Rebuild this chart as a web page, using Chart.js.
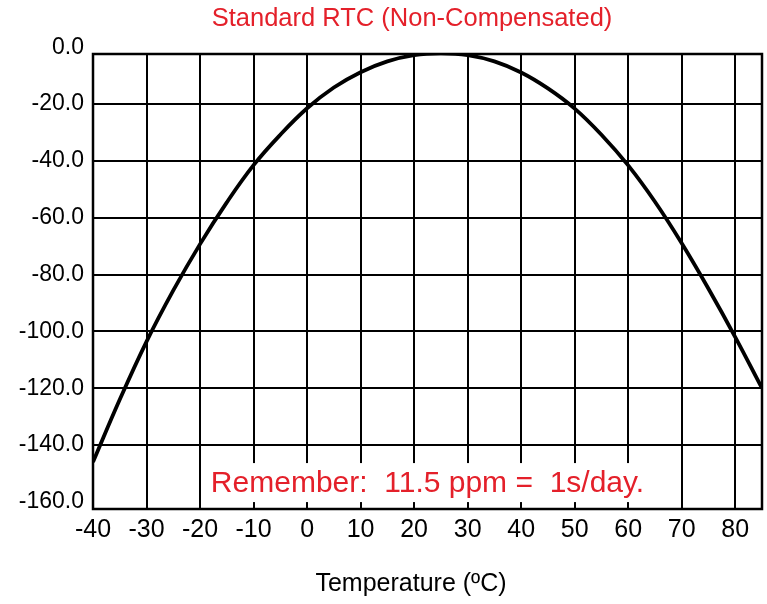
<!DOCTYPE html>
<html>
<head>
<meta charset="utf-8">
<script src="https://cdn.jsdelivr.net/npm/chart.js@4.4.1/dist/chart.umd.min.js"></script>
<style>
  html, body { margin: 0; padding: 0; background: #fff; }
  #wrap { width: 767px; height: 604px; }
</style>
</head>
<body>
<div id="wrap"><canvas id="graphCanvas" width="767" height="604"></canvas></div>
<script>
// temperature (C) vs frequency error (ppm)
var temps = [-40, -35, -30, -25, -20, -15, -10, -5, 0, 5, 10, 15, 20, 25, 30, 35, 40, 45, 50, 55, 60, 65, 70, 75, 80, 85];
var ppm = [-146, -124, -103.6, -85.6, -69.3, -54.6, -41.5, -30.8, -21.5, -14.2, -8.8, -5.0, -2.8, -2.2, -2.8, -5.0, -8.9, -14.5, -21.6, -30.8, -41.6, -54.4, -69, -85, -102, -120];

var xTicks = [-40, -30, -20, -10, 0, 10, 20, 30, 40, 50, 60, 70, 80];
var yTicks = [0, -20, -40, -60, -80, -100, -120, -140, -160];

var titleText = "Standard RTC (Non-Compensated)";
var xTitleText = "Temperature (\u00baC)";
var noteText = "Remember:  11.5 ppm =  1s/day.";

var red = '#e4202a';

var points = [];
for (var i = 0; i < temps.length; i++) {
  points.push({x: temps[i], y: ppm[i]});
}

var frameAndText = {
  id: 'frameAndText',
  beforeDatasetsDraw: function(chart) {
    var c = chart.ctx;
    var a = chart.chartArea;
    // white box behind the note
    var cx = (a.left + a.right) / 2;
    var cy = chart.scales.y.getPixelForValue(-153.2);
    c.save();
    c.fillStyle = '#fff';
    c.fillRect(cx - 221, cy - 19.5, 442, 39);
    // plot frame
    c.strokeStyle = '#000';
    c.lineWidth = 2.5;
    c.strokeRect(a.left, a.top, a.right - a.left, a.bottom - a.top);
    c.restore();
  },
  afterDraw: function(chart) {
    var c = chart.ctx;
    var a = chart.chartArea;
    var cx = (a.left + a.right) / 2;
    var cy = chart.scales.y.getPixelForValue(-153.2);
    c.save();
    c.fillStyle = red;
    c.textAlign = 'center';
    c.textBaseline = 'middle';
    c.font = '30px "Liberation Sans", Arial, sans-serif';
    c.fillText(noteText, cx, cy + 1);

    c.textBaseline = 'alphabetic';
    c.font = '25.5px "Liberation Sans", Arial, sans-serif';
    c.fillText(titleText, 412, 26);

    c.fillStyle = '#000';
    c.font = '25px "Liberation Sans", Arial, sans-serif';
    c.fillText(xTitleText, 411, 591);
    c.restore();
  }
};

var ctx = document.getElementById('graphCanvas').getContext('2d');

var chart = new Chart(ctx, {
  type: 'line',
  data: {
    datasets: [{
      label: "ppm",
      data: points,
      borderColor: '#000',
      backgroundColor: '#000',
      borderWidth: 3.8,
      pointRadius: 0,
      tension: 0.4,
      fill: false
    }]
  },
  options: {
    responsive: false,
    animation: false,
    layout: {padding: {top: 54, right: 5, bottom: 0, left: 0}},
    plugins: {
      legend: {display: false},
      title: {display: false},
      tooltip: {enabled: false}
    },
    scales: {
      x: {
        type: 'linear',
        min: -40,
        max: 85,
        afterBuildTicks: function(scale) {
          scale.ticks = xTicks.map(function(v) { return {value: v}; });
        },
        afterFit: function(scale) { scale.height = 95; },
        grid: {color: '#000', lineWidth: 2, drawTicks: false},
        border: {display: false},
        ticks: {
          padding: 6,
          color: '#000',
          font: {family: '"Liberation Sans", Arial, sans-serif', size: 25},
          callback: function(v) { return String(v); }
        }
      },
      y: {
        type: 'linear',
        min: -162.5,
        max: -2.4,
        afterBuildTicks: function(scale) {
          scale.ticks = yTicks.map(function(v) { return {value: v}; });
        },
        afterFit: function(scale) { scale.width = 93; },
        grid: {
          lineWidth: 2,
          drawTicks: false,
          color: function(c) {
            if (c.tick && (c.tick.value === 0 || c.tick.value === -160)) return 'rgba(0,0,0,0)';
            return '#000';
          }
        },
        border: {display: false},
        ticks: {
          padding: 9,
          color: '#000',
          font: {family: '"Liberation Sans", Arial, sans-serif', size: 23},
          callback: function(v) { return Number(v).toFixed(1); }
        }
      }
    }
  },
  plugins: [frameAndText]
});
</script>
</body>
</html>
